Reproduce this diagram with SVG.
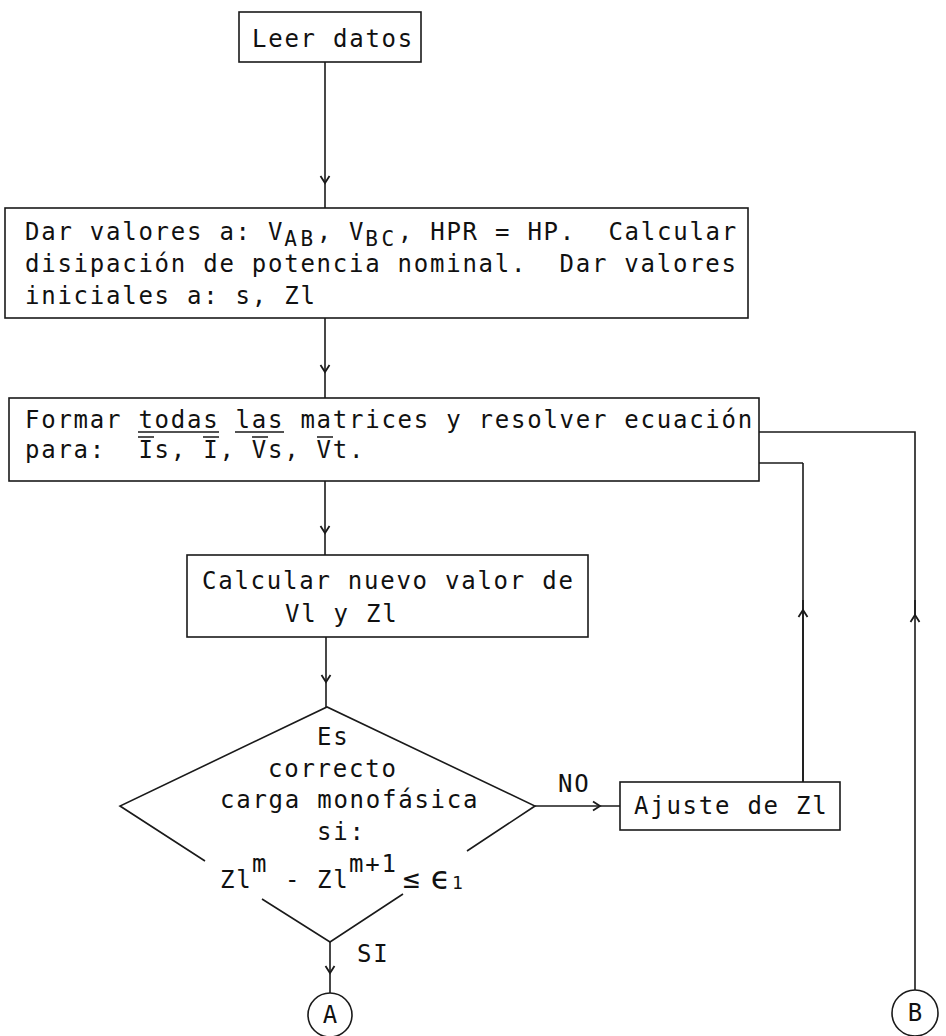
<svg xmlns="http://www.w3.org/2000/svg" width="946" height="1036" viewBox="0 0 946 1036">
<style>
.t{font-family:"DejaVu Sans Mono","Liberation Mono",monospace;font-size:24px;letter-spacing:1.75px;fill:#111;white-space:pre}
.s{font-size:21px;letter-spacing:3.6px}
.b{fill:#fff;stroke:#1a1a1a;stroke-width:1.6}
.c{fill:none;stroke:#1a1a1a;stroke-width:1.6}
.d{stroke:#1a1a1a;stroke-width:1.4}
</style>
<defs>
<marker id="ah" markerUnits="userSpaceOnUse" markerWidth="16" markerHeight="16" refX="0" refY="0" viewBox="-8 -8 16 16" orient="auto" overflow="visible">
<path d="M -7 -4.5 L 0 0 L -7 4.5" fill="none" stroke="#1a1a1a" stroke-width="1.8"/>
</marker>
</defs>
<rect width="946" height="1036" fill="#fff"/>
<g id="connectors">
<path class="c" d="M 325 62 L 325 183 L 325 208" marker-mid="url(#ah)"/>
<path class="c" d="M 325 318 L 325 372 L 325 398" marker-mid="url(#ah)"/>
<path class="c" d="M 325 481 L 325 533 L 325 555" marker-mid="url(#ah)"/>
<path class="c" d="M 326 637 L 326 682 L 326 707" marker-mid="url(#ah)"/>
<path class="c" d="M 535 806 L 600 806 L 620 806" marker-mid="url(#ah)"/>
<path class="c" d="M 803 782 L 803 610 L 803 463"/>
<path class="c" d="M 803 782 L 803 610 L 803 600" marker-mid="url(#ah)"/>
<path class="c" d="M 803 463 L 759 463"/>
<path class="c" d="M 915 991 L 915 615 L 915 600" marker-mid="url(#ah)"/>
<path class="c" d="M 915 615 L 915 432 L 759 432"/>
<path class="c" d="M 330 942 L 330 973 L 330 993" marker-mid="url(#ah)"/>
<text class="t" x="558" y="792">NO</text>
<text class="t" x="357" y="962">SI</text>
</g>
<g id="n1">
<rect class="b" x="239" y="12" width="182" height="50"/>
<text class="t" x="252" y="47">Leer datos</text>
</g>
<g id="n2">
<rect class="b" x="5" y="208" width="743" height="110"/>
<text class="t" x="25" y="240" xml:space="preserve">Dar valores a: V<tspan class="s" dy="6">AB</tspan><tspan dy="-6">, V</tspan><tspan class="s" dy="6">BC</tspan><tspan dy="-6">, HPR = HP.  Calcular</tspan></text>
<text class="t" x="25" y="272" xml:space="preserve">disipación de potencia nominal.  Dar valores</text>
<text class="t" x="25" y="304">iniciales a: s, Zl</text>
</g>
<g id="n3">
<rect class="b" x="9" y="398" width="750" height="83"/>
<text class="t" x="25" y="428">Formar todas las matrices y resolver ecuación</text>
<text class="t" x="25" y="458" xml:space="preserve">para:  Is, I, Vs, Vt.</text>
<path class="d" d="M 138 432 H 219 M 235 432 H 284 M 138 437 H 154 M 203 437 H 219 M 252 437 H 268 M 317 437 H 333"/>
</g>
<g id="n4">
<rect class="b" x="187" y="555" width="401" height="82"/>
<text class="t" x="202" y="589">Calcular nuevo valor de</text>
<text class="t" x="285" y="622">Vl y Zl</text>
</g>
<g id="n5">
<path class="c" d="M 205 861 L 120 806 L 327 707 L 535 806 L 467 851 M 403 894 L 330 942 L 262 899"/>
<text class="t" x="317" y="745">Es</text>
<text class="t" x="268" y="777">correcto</text>
<text class="t" x="220" y="808">carga monofásica</text>
<text class="t" x="317" y="840">si:</text>
<text class="t" x="220" y="888">Zl</text>
<text class="t" x="252" y="872">m</text>
<text class="t" x="285" y="888">-</text>
<text class="t" x="317" y="888">Zl</text>
<text class="t" x="349" y="872">m+1</text>
<text class="t" x="403" y="888" style="font-size:28px;letter-spacing:0">≤</text>
<text class="t" x="430" y="889" style="font-size:32px;letter-spacing:0">ϵ</text>
<text class="t" x="452" y="889" style="font-size:18px;letter-spacing:0">1</text>
</g>
<g id="n6">
<rect class="b" x="620" y="782" width="220" height="48"/>
<text class="t" x="634" y="814">Ajuste de Zl</text>
</g>
<g id="n7">
<circle class="b" cx="330" cy="1015" r="22"/>
<text class="t" x="330" y="1023" text-anchor="middle" style="letter-spacing:0">A</text>
</g>
<g id="n8">
<circle class="b" cx="915" cy="1013" r="23"/>
<text class="t" x="915" y="1021" text-anchor="middle" style="letter-spacing:0">B</text>
</g>
</svg>
